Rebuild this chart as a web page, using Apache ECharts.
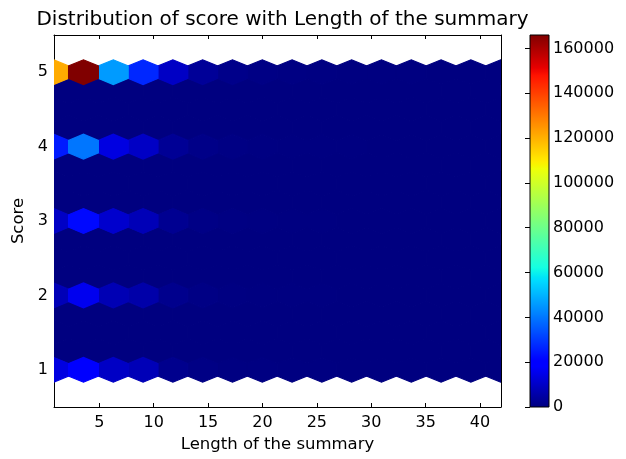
<!DOCTYPE html>
<html><head><meta charset="utf-8">
<script src="https://cdn.jsdelivr.net/npm/echarts@6/dist/echarts.min.js"></script>
<style>html,body{margin:0;padding:0;background:#fff}#c{width:626px;height:459px}</style>
</head><body><div id="c"></div>
<script>
// ---- data ----
const lengthMin = 0.8, lengthMax = 41.9;   // extent of "Length of the summary"
const scoreMin = 1, scoreMax = 5;          // extent of "Score"
const gridSize = 15;                       // hexbin gridsize
const scores = [1, 2, 3, 4, 5];
// counts of hexes centred on each score row, lattice columns left to right
const countsScore1 = [14000, 20000, 10000, 8000, 2000, 800, 400, 250, 150, 100, 70, 40, 30, 20, 10, 5];
const countsScore2 = [8000, 16000, 7500, 6000, 2000, 800, 400, 200, 150, 100, 60, 40, 20, 15, 10, 5];
const countsScore3 = [10000, 22000, 11000, 8000, 2500, 1000, 500, 300, 200, 100, 80, 50, 30, 20, 10, 5];
const countsScore4 = [25000, 40000, 14000, 10000, 3000, 1200, 600, 300, 200, 150, 100, 60, 40, 30, 20, 10];
const countsScore5 = [121000, 166000, 46000, 27000, 10000, 3500, 1500, 800, 500, 300, 200, 150, 100, 60, 40, 20];
const xTicks = [5, 10, 15, 20, 25, 30, 35, 40];
const yTicks = [1, 2, 3, 4, 5];
const colorbarTicks = [0, 20000, 40000, 60000, 80000, 100000, 120000, 140000, 160000];
const colorMax = 166000;
const xRange = [0.83, 41.93], yRange = [0.5, 5.5];

// ---- jet colormap (style) ----
function jet(t) {
  const seg = {
    r: [[0, 0], [0.35, 0], [0.66, 1], [0.89, 1], [1, 0.5]],
    g: [[0, 0], [0.125, 0], [0.375, 1], [0.64, 1], [0.91, 0], [1, 0]],
    b: [[0, 0.5], [0.11, 1], [0.34, 1], [0.65, 0], [1, 0]]
  };
  function ch(s) {
    for (let i = 1; i < s.length; i++) {
      if (t <= s[i][0]) {
        const f = (t - s[i - 1][0]) / (s[i][0] - s[i - 1][0]);
        return s[i - 1][1] + f * (s[i][1] - s[i - 1][1]);
      }
    }
    return s[s.length - 1][1];
  }
  return 'rgb(' + Math.round(ch(seg.r) * 255) + ',' + Math.round(ch(seg.g) * 255) + ',' + Math.round(ch(seg.b) * 255) + ')';
}
const jetColors = [];
for (let k = 0; k <= 200; k++) jetColors.push(jet(k / 200));

// ---- hex lattice ----
const countsByScore = { 1: countsScore1, 2: countsScore2, 3: countsScore3, 4: countsScore4, 5: countsScore5 };
const nx = gridSize, ny = Math.floor(gridSize / Math.sqrt(3));
const sx = (lengthMax - lengthMin) / nx, sy = (scoreMax - scoreMin) / ny;
const cells = [];
for (let i = 0; i <= nx; i++) for (let j = 0; j <= ny; j++) {
  const cx = lengthMin + i * sx, cy = scoreMin + j * sy;
  const row = countsByScore[cy];
  cells.push([cx, cy, row ? row[i] : 0]);
}
for (let i = 0; i < nx; i++) for (let j = 0; j < ny; j++) {
  cells.push([lengthMin + (i + 0.5) * sx, scoreMin + (j + 0.5) * sy, 0]);
}
cells.sort((a, b) => a[2] - b[2]);
const hexOffsets = [[0.5, -0.5], [0.5, 0.5], [0, 1], [-0.5, 0.5], [-0.5, -0.5], [0, -1]];

const tickFont = { color: '#000', fontFamily: 'DejaVu Sans', fontSize: 16 };
const nameFont = { color: '#000', fontFamily: 'DejaVu Sans', fontSize: 16.5 };
const frameLine = { show: true, lineStyle: { color: '#000', width: 1 } };
const plain = v => String(v);

const chart = echarts.init(document.getElementById('c'), null, { renderer: 'canvas' });
chart.setOption({
  animation: false,
  backgroundColor: '#fff',
  title: {
    text: 'Distribution of score with Length of the summary',
    left: 277.5, top: 5, textAlign: 'center',
    textStyle: { color: '#000', fontFamily: 'DejaVu Sans', fontSize: 20, fontWeight: 'normal' }
  },
  grid: [
    { left: 54, top: 35, width: 447, height: 372 },
    { left: 530, top: 35, width: 19, height: 372 }
  ],
  xAxis: [
    { type: 'value', gridIndex: 0, min: xRange[0], max: xRange[1], position: 'bottom',
      name: 'Length of the summary', nameLocation: 'middle', nameGap: 29, nameTextStyle: nameFont,
      axisLine: frameLine, splitLine: { show: false },
      axisTick: { inside: true, length: 4, customValues: xTicks, lineStyle: { color: '#000' } },
      axisLabel: { customValues: xTicks, margin: 8, formatter: plain, ...tickFont } },
    { type: 'value', gridIndex: 0, min: xRange[0], max: xRange[1], position: 'top',
      axisLine: frameLine, splitLine: { show: false },
      axisTick: { inside: true, length: 4, customValues: xTicks, lineStyle: { color: '#000' } },
      axisLabel: { show: false } },
    { type: 'value', gridIndex: 1, min: 0, max: 1, show: false }
  ],
  yAxis: [
    { type: 'value', gridIndex: 0, min: yRange[0], max: yRange[1], position: 'left',
      name: 'Score', nameLocation: 'middle', nameGap: 26, nameTextStyle: nameFont,
      axisLine: frameLine, splitLine: { show: false },
      axisTick: { inside: true, length: 4, customValues: yTicks, lineStyle: { color: '#000' } },
      axisLabel: { customValues: yTicks, margin: 6, formatter: plain, ...tickFont } },
    { type: 'value', gridIndex: 0, min: yRange[0], max: yRange[1], position: 'right',
      axisLine: frameLine, splitLine: { show: false },
      axisTick: { inside: true, length: 4, customValues: yTicks, lineStyle: { color: '#000' } },
      axisLabel: { show: false } },
    { type: 'value', gridIndex: 1, min: 0, max: colorMax, position: 'right',
      axisLine: { show: false }, splitLine: { show: false },
      axisTick: { inside: true, length: 5, customValues: colorbarTicks, lineStyle: { color: '#000' } },
      axisLabel: { customValues: colorbarTicks, margin: 4, formatter: plain, ...tickFont } }
  ],
  visualMap: {
    type: 'continuous', show: false, seriesIndex: 0, dimension: 2,
    min: 0, max: colorMax, inRange: { color: jetColors }
  },
  series: [
    {
      type: 'custom', xAxisIndex: 0, yAxisIndex: 0, clip: true,
      data: cells,
      renderItem: function (params, api) {
        const cx = api.value(0), cy = api.value(1);
        const pts = hexOffsets.map(o => api.coord([cx + o[0] * sx, cy + o[1] * sy / 3]));
        const c = api.visual('color');
        return { type: 'polygon', shape: { points: pts }, style: { fill: c, stroke: c, lineWidth: 1.2, opacity: 1 } };
      }
    },
    {
      type: 'custom', xAxisIndex: 2, yAxisIndex: 2,
      data: [[0, 0, 1, colorMax]],
      renderItem: function (params, api) {
        const p0 = api.coord([api.value(0), api.value(1)]);
        const p1 = api.coord([api.value(2), api.value(3)]);
        const stops = jetColors.map((c, k) => ({ offset: k / (jetColors.length - 1), color: c }));
        return {
          type: 'rect',
          shape: { x: p0[0], y: p1[1], width: p1[0] - p0[0], height: p0[1] - p1[1] },
          style: { fill: new echarts.graphic.LinearGradient(0, 1, 0, 0, stops), stroke: '#000', lineWidth: 1 }
        };
      },
      z: 1
    }
  ]
});
</script></body></html>
